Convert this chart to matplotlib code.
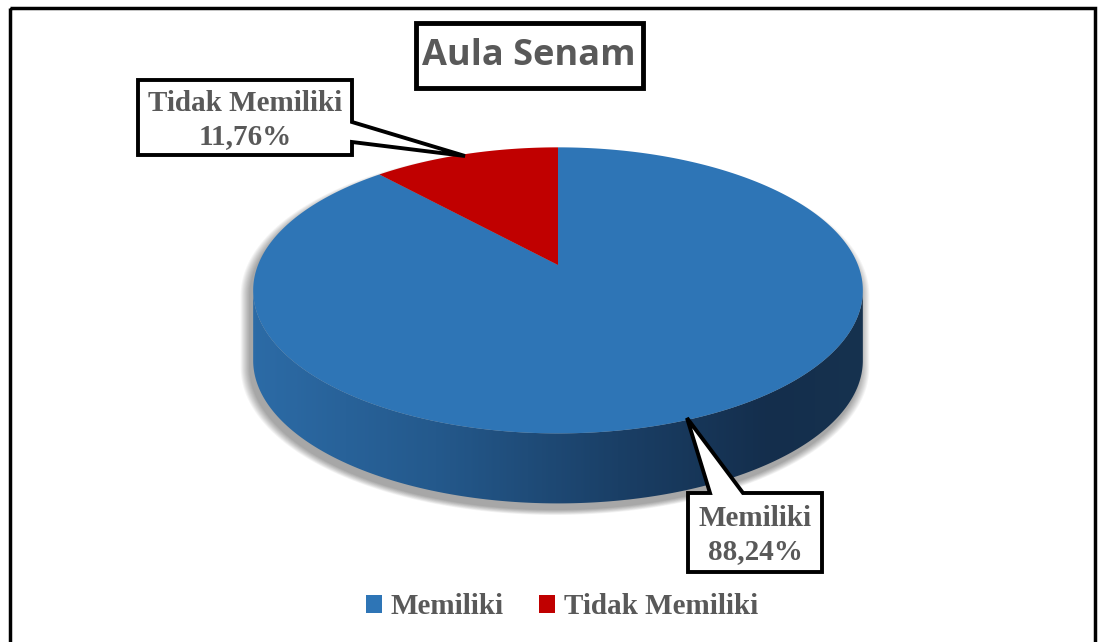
import numpy as np
import matplotlib
matplotlib.use("Agg")
import matplotlib.pyplot as plt
from matplotlib.patches import Polygon, Rectangle, Patch
from matplotlib.colors import LinearSegmentedColormap

labels = ["Memiliki", "Tidak Memiliki"]
values = [88.24, 11.76]
colors = ["#2e75b6", "#c00000"]
title = "Aula Senam"

W, H = 1102, 642
fig = plt.figure(figsize=(W / 100, H / 100), dpi=100)
ax = fig.add_axes([0, 0, 1, 1])
ax.set_xlim(0, W)
ax.set_ylim(H, 0)
ax.axis("off")

# outer frame
ax.add_patch(Rectangle((10, 8), 1085, 660, fill=False, ec="black", lw=2.5, zorder=1))

# 3d pie with perspective on the top face; thickness as a screen offset
cx, cy, scale = 558, 265, 300
tilt = np.radians(27.5)
dist = 5.0
depth = 70


def proj(t):
    X = np.cos(t)
    Z = -np.sin(t)
    v = -Z * np.sin(tilt)
    f = dist / (dist - Z * np.cos(tilt))
    return cx + scale * X * f, cy - scale * v * f


# outline of the body (hull of top face and shifted bottom face)
ts = np.radians(np.linspace(0, 360, 721))
ex, ey = proj(ts)
i_left = np.argmin(np.where(np.sin(ts) < 0.2, ex, 1e9))
i_right = np.argmax(np.where(np.sin(ts) < 0.2, ex, -1e9))
t_left = ts[i_left]
t_right = ts[i_right] + 2 * np.pi if ts[i_right] < t_left else ts[i_right]
tside = np.linspace(t_left, t_right, 300)
tx, ty = proj(tside)
side_pts = np.r_[np.c_[tx, ty], np.c_[tx[::-1], ty[::-1] + depth]]

# silhouette for the shadow
back = np.array(proj(np.linspace(t_right, t_left + 2 * np.pi, 300))).T
sil = np.r_[np.c_[tx, ty + depth], back]
mx, my = sil[:, 0].mean(), sil[:, 1].mean()
for k in range(10, 0, -1):
    sc = 1 + k / 320.0
    ax.add_patch(Polygon(np.c_[mx + (sil[:, 0] - mx) * sc - 3, my + (sil[:, 1] - my) * sc + 6],
                         closed=True, fc="black", ec="none", alpha=0.04, zorder=2))

# side wall with horizontal gradient
side = Polygon(side_pts, closed=True, fc="none", ec="none", zorder=3)
ax.add_patch(side)
cmap = LinearSegmentedColormap.from_list(
    "side", [(0, "#2c6ba6"), (0.3, "#24598c"), (0.6, "#1a3f66"), (0.85, "#142e4c"), (1, "#16324f")])
grad = np.tile(np.linspace(0, 1, 300), (10, 1))
im = ax.imshow(grad, cmap=cmap, extent=[tx.min(), tx.max(), ty.max() + depth + 2, ty.min() - 2],
               aspect="auto", zorder=3)
im.set_clip_path(side)
ax.set_xlim(0, W)
ax.set_ylim(H, 0)

# top face wedges, starting at 12 o'clock, clockwise
total = sum(values)
start = 90.0
for v, c in zip(values, colors):
    sweep = 360.0 * v / total
    t = np.radians(np.linspace(start, start - sweep, 300))
    px, py = proj(t)
    ax.add_patch(Polygon(np.r_[[[cx, cy]], np.c_[px, py]], closed=True,
                         fc=c, ec="none", zorder=4))
    start -= sweep

# title
ax.add_patch(Rectangle((416, 23), 227, 65, fc="white", ec="black", lw=3.5, zorder=6))
ax.text(529, 56, title, ha="center", va="center", fontsize=26, fontweight="bold",
        family=["Open Sans", "DejaVu Sans"], color="#595959", zorder=7)


def callout(box, base, tip, text_xy, txt):
    x0, y0, x1, y1 = box
    if base[0] == "right":
        ya, yb = base[1], base[2]
        pts = [(x0, y0), (x1, y0), (x1, ya), tip, (x1, yb), (x1, y1), (x0, y1)]
    else:
        xa, xb = base[1], base[2]
        pts = [(x0, y0), (xa, y0), tip, (xb, y0), (x1, y0), (x1, y1), (x0, y1)]
    ax.add_patch(Polygon(pts, closed=True, fc="white", ec="black", lw=2.8,
                         joinstyle="miter", zorder=7))
    ax.text(text_xy[0], text_xy[1], txt, ha="center", va="center", fontsize=21, fontweight="bold",
            family=["Liberation Serif", "DejaVu Serif"], color="#595959",
            linespacing=1.3, zorder=8)


def pct(v):
    return f"{v:.2f}".replace(".", ",") + "%"


callout((138, 80, 352, 155), ("right", 122, 142), (465, 156), (245, 120),
        f"{labels[1]}\n{pct(values[1])}")
callout((688, 493, 822, 572), ("top", 710, 743), (687, 418), (755, 535),
        f"{labels[0]}\n{pct(values[0])}")

handles = [Patch(fc=c, ec="none") for c in colors]
ax.legend(handles, labels, loc="center", bbox_to_anchor=(562 / W, 1 - 607 / H), ncol=2,
          frameon=False, handlelength=0.55, handleheight=0.55, handletextpad=0.3,
          columnspacing=1.2, labelcolor="#595959",
          prop=dict(family=["Liberation Serif", "DejaVu Serif"], weight="bold", size=21))

fig.savefig("out.png", dpi=100)
